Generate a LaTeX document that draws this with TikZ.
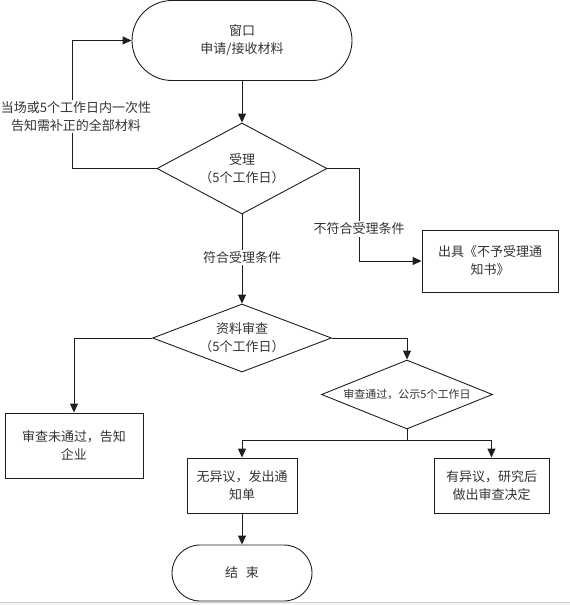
\documentclass[tikz,border=0pt]{standalone}
\usepackage{fontspec}
\setmainfont{Noto Sans CJK SC}
\usetikzlibrary{shapes.geometric,shapes.misc,arrows.meta}
\definecolor{linec}{HTML}{1E1E1E}
\definecolor{txtc}{HTML}{333333}
\begin{document}
\begin{tikzpicture}[x=1pt,y=-1pt,
  line/.style={draw=linec, line width=0.9pt},
  arr/.style={line, -{Triangle[length=9pt,width=8pt]}},
  txt/.style={font=\fontsize{13}{18}\selectfont, text=txtc, align=center},
  box/.style={rectangle, draw=linec, line width=0.9pt, inner sep=0pt, txt},
  term/.style={rounded rectangle, draw=linec, line width=0.9pt, inner sep=0pt, txt},
  dec/.style={diamond, draw=linec, line width=0.9pt, inner sep=0pt, txt},
  lbl/.style={fill=white, inner sep=1.5pt, txt}
]
\useasboundingbox (0,0) rectangle (570,605);
% bottom strip (screenshot border)
\fill[black!3] (0,602) rectangle (570,605);
\draw[black!20, line width=0.8pt] (0,602) -- (570,602);

\node[term, minimum width=220, minimum height=80] (start) at (242,40.5) {窗口\\申请/接收材料};
\node[dec, aspect=1.87, minimum width=170, minimum height=91] (d1) at (242,168.5) {受理\\（5个工作日）};
\node[box, minimum width=136, minimum height=62] (rej) at (490,261) {出具《不予受理通\\知书》};
\node[dec, aspect=2.63, minimum width=179, minimum height=68] (d2) at (242,338) {资料审查\\（5个工作日）};
\node[box, minimum width=138, minimum height=65] (fail) at (74,445.5) {审查未通过，告知\\企业};
\node[dec, aspect=2.48, minimum width=171, minimum height=69, font=\fontsize{11}{13}\selectfont] (d3) at (407,394.5) {审查通过，公示5个工作日};
\node[box, minimum width=110, minimum height=55] (ok) at (242,485.5) {无异议，发出通\\知单};
\node[box, minimum width=115, minimum height=55] (obj) at (491.5,485.5) {有异议，研究后\\做出审查决定};
\node[term, minimum width=140, minimum height=56] (end) at (242,573) {结\hspace{0.6em}束};

\coordinate (fb) at (72,0);
\coordinate (rj) at (359,0);
\coordinate (j) at (407,440);

% connectors
\draw[arr] (start.south) -- (d1.north);
\draw[arr] (d1.west) -- (d1.west -| fb) -- (fb |- start.west) -- (start.west);
\node[lbl] (fblbl) at (76,116.5) {当场或5个工作日内一次性\\告知需补正的全部材料};
\draw[arr] (d1.east) -- (d1.east -| rj) -- (rj |- rej.west) -- (rej.west);
\node[lbl] (rjlbl) at (359,229) {不符合受理条件};
\draw[arr] (d1.south) -- node[lbl, pos=0.48] {符合受理条件} (d2.north);
\draw[arr] (d2.west) -| (fail.north);
\draw[arr] (d2.east) -| (d3.north);
\draw[line] (d3.south) -- (j);
\draw[arr] (j) -| (ok.north);
\draw[arr] (j) -| (obj.north);
\draw[arr] (ok.south) -- (end.north);
\end{tikzpicture}
\end{document}
